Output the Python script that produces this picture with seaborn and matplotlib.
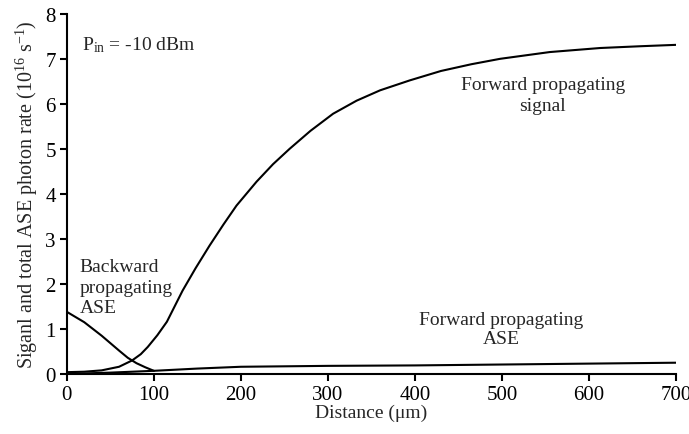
import matplotlib
matplotlib.use("Agg")
import matplotlib.pyplot as plt
import seaborn as sns
import pandas as pd

# Data
signal_x = [0, 20, 40, 60, 75, 85, 93, 104, 115, 133, 148, 164, 180, 195, 218, 237, 256, 280, 306, 333, 360, 394, 430, 465, 498, 555, 613, 660, 700]
signal_y = [0.04, 0.05, 0.08, 0.16, 0.3, 0.44, 0.6, 0.86, 1.16, 1.85, 2.35, 2.85, 3.32, 3.74, 4.27, 4.66, 5.0, 5.4, 5.78, 6.07, 6.3, 6.52, 6.73, 6.88, 7.0, 7.15, 7.24, 7.28, 7.31]

back_x = [0, 20, 40, 60, 70, 80, 90, 100]
back_y = [1.38, 1.15, 0.85, 0.52, 0.36, 0.24, 0.15, 0.07]

fase_x = [0, 50, 100, 150, 200, 300, 400, 500, 600, 700]
fase_y = [0.0, 0.03, 0.07, 0.12, 0.16, 0.18, 0.19, 0.21, 0.23, 0.25]

x_ticks = [0, 100, 200, 300, 400, 500, 600, 700]
y_ticks = [0, 1, 2, 3, 4, 5, 6, 7, 8]

sns.set_theme(style="ticks")
plt.rcParams['font.family'] = ['Liberation Serif', 'DejaVu Serif']
plt.rcParams['mathtext.fontset'] = 'custom'
plt.rcParams['mathtext.rm'] = 'Liberation Serif'
plt.rcParams['mathtext.it'] = 'Liberation Serif:italic'

fig = plt.figure(figsize=(6.89, 4.35), dpi=100)
ax = fig.add_axes([0.097, 0.138, 0.884, 0.828])

df_sig = pd.DataFrame({"x": signal_x, "y": signal_y})
df_back = pd.DataFrame({"x": back_x, "y": back_y})
df_fase = pd.DataFrame({"x": fase_x, "y": fase_y})

for d in (df_sig, df_back, df_fase):
    sns.lineplot(data=d, x="x", y="y", ax=ax, color="black", linewidth=1.5)

ax.set_xlim(0, 700)
ax.set_ylim(0, 8)
ax.set_xticks(x_ticks)
ax.set_yticks(y_ticks)
ax.tick_params(direction="out", length=5, width=1.5, labelsize=15, colors="black", pad=3)
for s in ("top", "right"):
    ax.spines[s].set_visible(False)
for s in ("left", "bottom"):
    ax.spines[s].set_linewidth(1.5)
    ax.spines[s].set_color("black")

ax.set_xlabel("Distance (μm)", fontsize=14, labelpad=0)
ax.set_ylabel("Siganl and total ASE photon rate (10$^{16}$ s$^{-1}$)", fontsize=14.5, labelpad=4)

ax.text(17, 7.33, "P$_{\\rm in}$ = -10 dBm", fontsize=14, va="center", ha="left")
ax.text(547, 6.2, "Forward propagating\nsignal", fontsize=14, va="center", ha="center", linespacing=1.3)
ax.text(15, 1.93, "Backward\npropagating\nASE", fontsize=14, va="center", ha="left", linespacing=1.3)
ax.text(499, 1.0, "Forward propagating\nASE", fontsize=14, va="center", ha="center", linespacing=1.2)

fig.savefig("out.png", dpi=100)
